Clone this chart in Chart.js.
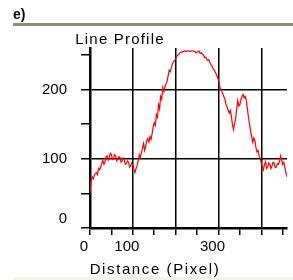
<!DOCTYPE html>
<html>
<head>
<meta charset="utf-8">
<script src="https://cdn.jsdelivr.net/npm/chart.js@4"></script>
<style>
  body { margin: 0; background: #fff; width: 293px; height: 280px; overflow: hidden; position: relative; font-family: "Liberation Sans", Arial, sans-serif; }
  #chart { position: absolute; left: 0; top: 0; }
  .txt { position: absolute; color: #000; white-space: nowrap; }
  #panel { left: 13px; top: 6px; font-size: 14px; font-weight: bold; line-height: 16px; }
  #rule { position: absolute; left: 13px; top: 23px; width: 280px; height: 3px; background: #8c8c7c; }
  #band { position: absolute; left: 13px; top: 277px; width: 280px; height: 3px; background: #f6f4e6; }
  #title { left: 20px; width: 200px; text-align: center; top: 31px; font-size: 15px; line-height: 15px; letter-spacing: 1.2px; }
  #xtitle { left: 55px; width: 200px; text-align: center; top: 261px; font-size: 15px; line-height: 15px; letter-spacing: 1.6px; }
</style>
</head>
<body>
<canvas id="chart" width="293" height="280"></canvas>
<div class="txt" id="panel">e)</div>
<div id="rule"></div>
<div class="txt" id="title">Line Profile</div>
<div class="txt" id="xtitle">Distance (Pixel)</div>
<div id="band"></div>
<script>
// line profile, one value every 2.5 pixels
const distance = [0, 2.5, 5, 7.5, 10, 12.5, 15, 17.5, 20, 22.5, 25, 27.5, 30, 32.5, 35, 37.5, 40, 42.5, 45, 47.5,
    50, 52.5, 55, 57.5, 60, 62.5, 65, 67.5, 70, 72.5, 75, 77.5, 80, 82.5, 85, 87.5, 90, 92.5, 95, 97.5,
    100, 102.5, 105, 107.5, 110, 112.5, 115, 117.5, 120, 122.5, 125, 127.5, 130, 132.5, 135, 137.5, 140, 142.5, 145, 147.5,
    150, 152.5, 155, 157.5, 160, 162.5, 165, 167.5, 170, 172.5, 175, 177.5, 180, 182.5, 185, 187.5, 190, 192.5, 195, 197.5,
    200, 202.5, 205, 207.5, 210, 212.5, 215, 217.5, 220, 222.5, 225, 227.5, 230, 232.5, 235, 237.5, 240, 242.5, 245, 247.5,
    250, 252.5, 255, 257.5, 260, 262.5, 265, 267.5, 270, 272.5, 275, 277.5, 280, 282.5, 285, 287.5, 290, 292.5, 295, 297.5,
    300, 302.5, 305, 307.5, 310, 312.5, 315, 317.5, 320, 322.5, 325, 327.5, 330, 332.5, 335, 337.5, 340, 342.5, 345, 347.5,
    350, 352.5, 355, 357.5, 360, 362.5, 365, 367.5, 370, 372.5, 375, 377.5, 380, 382.5, 385, 387.5, 390, 392.5, 395, 397.5,
    400, 402.5, 405, 407.5, 410, 412.5, 415, 417.5, 420, 422.5, 425, 427.5, 430, 432.5, 435, 437.5, 440, 442.5, 445, 447.5,
    450, 452.5, 455, 457.5, 460];
const intensity = [50, 68, 74, 71, 76, 79, 80, 77, 86, 84, 88, 93, 98, 92, 95, 103, 104, 98, 102, 108,
    106, 99, 100, 106, 104, 97, 99, 103, 102, 95, 97, 101, 98, 92, 93, 97, 95, 88, 90, 94,
    91, 85, 80, 86, 90, 97, 106, 102, 108, 115, 122, 112, 118, 126, 129, 124, 132, 128, 136, 146,
    152, 148, 164, 160, 178, 172, 190, 186, 203, 197, 204, 208, 212, 220, 228, 226, 232, 237, 240, 242,
    244, 248, 250, 251, 253, 254, 254, 255, 255, 256, 255, 256, 256, 255, 255, 256, 256, 255, 255, 253,
    254, 255, 255, 252, 253, 251, 250, 246, 247, 244, 242, 243, 239, 236, 234, 230, 228, 225, 222, 218,
    214, 206, 200, 198, 194, 190, 186, 178, 175, 170, 166, 170, 162, 150, 142, 150, 158, 172, 184, 176,
    178, 186, 190, 193, 188, 190, 184, 172, 160, 150, 140, 132, 124, 130, 126, 116, 110, 112, 104, 100,
    94, 88, 84, 92, 96, 86, 88, 94, 92, 86, 90, 95, 94, 87, 88, 93, 92, 96, 104, 98,
    92, 95, 88, 80, 74];

const xTickLabels = [0, 100, 300];
const yTickLabels = [0, 100, 200];
const xGridAt = [100, 200, 300, 400];
const yGridAt = [100, 200];

const points = distance.map((d, i) => ({ x: d, y: intensity[i] }));

const tickFont = { family: "'Liberation Sans', Arial, sans-serif", size: 15 };

new Chart(document.getElementById('chart').getContext('2d'), {
    type: 'line',
    data: {
        datasets: [{
            data: points,
            borderColor: '#ff0000',
            borderWidth: 1.2,
            pointRadius: 0,
            tension: 0,
            fill: false
        }]
    },
    options: {
        responsive: false,
        animation: false,
        layout: { padding: { left: 0, right: 6, top: 48, bottom: 0 } },
        plugins: {
            legend: { display: false },
            title: { display: false },
            tooltip: { enabled: false }
        },
        scales: {
            x: {
                type: 'linear',
                min: 0,
                max: 460,
                afterFit: scale => { scale.height = 52; },
                border: { display: true, color: '#000', width: 2.5 },
                grid: {
                    color: ctx => xGridAt.includes(ctx.tick && ctx.tick.value) ? '#000' : 'rgba(0,0,0,0)',
                    tickColor: '#000',
                    lineWidth: 1.5,
                    tickLength: 7,
                    drawOnChartArea: true
                },
                ticks: {
                    stepSize: 50,
                    includeBounds: false,
                    autoSkip: false,
                    maxRotation: 0,
                    color: '#000',
                    font: tickFont,
                    padding: 3,
                    labelOffset: -6,
                    callback: v => xTickLabels.includes(v) ? String(v) : ''
                }
            },
            y: {
                min: 0,
                max: 260,
                afterFit: scale => { scale.width = 90; },
                border: { display: true, color: '#000', width: 2.5 },
                grid: {
                    color: ctx => yGridAt.includes(ctx.tick && ctx.tick.value) ? '#000' : 'rgba(0,0,0,0)',
                    tickColor: '#000',
                    lineWidth: 1.5,
                    tickLength: 9,
                    drawOnChartArea: true
                },
                ticks: {
                    stepSize: 50,
                    includeBounds: false,
                    autoSkip: false,
                    color: '#000',
                    font: tickFont,
                    padding: 14,
                    // the 0 label sits a little above the axis in the original
                    callback: v => yTickLabels.includes(v) ? (v === 0 ? ['0', ''] : String(v)) : ''
                }
            }
        }
    }
});
</script>
</body>
</html>
